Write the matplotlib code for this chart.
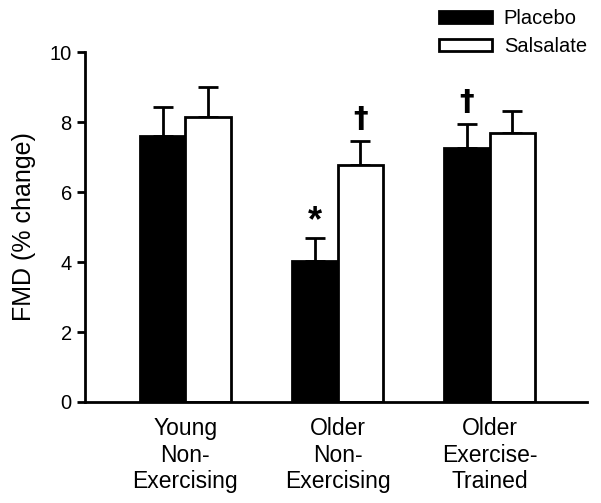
import numpy as np
import matplotlib
matplotlib.use("Agg")
import matplotlib.pyplot as plt

plt.rcParams["font.family"] = ["Liberation Sans", "DejaVu Sans"]

groups = ["Young\nNon-\nExercising", "Older\nNon-\nExercising", "Older\nExercise-\nTrained"]
placebo = [7.6, 4.04, 7.25]
placebo_err = [0.84, 0.66, 0.70]
salsalate = [8.15, 6.76, 7.69]
salsalate_err = [0.85, 0.71, 0.62]
# markers: (group index, series, symbol)
marks = [(1, "placebo", "*"), (1, "salsalate", "†"), (2, "placebo", "†")]

fig = plt.figure(figsize=(6.01, 5.03), dpi=100)
ax = fig.add_axes([0.1414, 0.2008, 0.8353, 0.6958])

x = np.arange(len(groups))
w = 0.30
lw = 2.0

ax.bar(x - w / 2, placebo, w, color="black", edgecolor="black", linewidth=lw,
       label="Placebo", zorder=2)
ax.bar(x + w / 2, salsalate, w, color="white", edgecolor="black", linewidth=lw,
       label="Salsalate", zorder=2)
err_kw = dict(fmt="none", ecolor="black", elinewidth=lw, capsize=7, capthick=lw, zorder=1)
ax.errorbar(x - w / 2, placebo, yerr=[np.zeros(3), placebo_err], **err_kw)
ax.errorbar(x + w / 2, salsalate, yerr=[np.zeros(3), salsalate_err], **err_kw)

for gi, series, sym in marks:
    if series == "placebo":
        xp, top = gi - w / 2, placebo[gi] + placebo_err[gi]
    else:
        xp, top = gi + w / 2, salsalate[gi] + salsalate_err[gi]
    if sym == "*":
        ax.text(xp, top + 0.45, sym, ha="center", va="center", fontsize=26,
                fontweight="bold")
    else:
        ax.text(xp, top + 0.62, sym, ha="center", va="center", fontsize=21,
                fontweight="bold", family=["DejaVu Sans"])

ax.set_xlim(-0.66, 2.64)
ax.set_ylim(0, 10)
ax.set_yticks([0, 2, 4, 6, 8, 10])
ax.set_xticks(x)
ax.set_xticklabels(groups, fontsize=16.5, linespacing=1.2)
ax.tick_params(axis="x", length=0, pad=11)
ax.tick_params(axis="y", labelsize=14.5, width=lw, length=6, direction="out")
ax.set_ylabel("FMD (% change)", fontsize=18, labelpad=10)

for s in ["top", "right"]:
    ax.spines[s].set_visible(False)
for s in ["left", "bottom"]:
    ax.spines[s].set_linewidth(lw)

ax.legend(loc="upper right", bbox_to_anchor=(1.016, 1.145), frameon=False,
          fontsize=14.5, handlelength=2.6, handleheight=0.55,
          labelspacing=0.45, handletextpad=0.6, borderaxespad=0)

fig.savefig("out.png", dpi=100)
